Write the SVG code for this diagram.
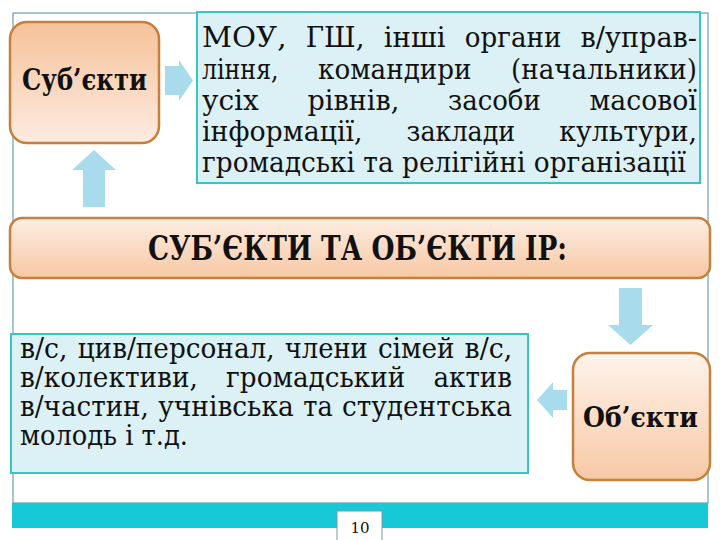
<svg xmlns="http://www.w3.org/2000/svg" width="720" height="540" viewBox="0 0 720 540">
<defs>
<linearGradient id="gSub" x1="0" y1="0" x2="0" y2="1">
<stop offset="0" stop-color="#f6c29a"/><stop offset="1" stop-color="#fdebe0"/>
</linearGradient>
<linearGradient id="gObj" x1="0" y1="0" x2="0" y2="1">
<stop offset="0" stop-color="#fef3ea"/><stop offset="1" stop-color="#f7c9a6"/>
</linearGradient>
<linearGradient id="gBan" x1="0" y1="0" x2="0" y2="1">
<stop offset="0" stop-color="#fdeee3"/><stop offset="1" stop-color="#f7c7a3"/>
</linearGradient>
</defs>
<style>
.orange{stroke:#c4803c;stroke-width:2.5}
.tbox{fill:#dcf1f6;stroke:#36c6c6;stroke-width:2}
.arrow{fill:#a8dcec}
.serif{font-family:"DejaVu Serif","Liberation Serif",serif;fill:#111}
.bt{font-size:28px}
.bold{font-weight:bold}
</style>
<rect width="720" height="540" fill="#ffffff"/>
<rect id="frame" x="13" y="13" width="695" height="490" fill="none" stroke="#4d8e9e" stroke-width="1"/>
<rect id="band" x="12" y="503" width="696" height="25" fill="#17c9d6"/>

<g id="connectors">
<path class="arrow" d="M165,66 L179,66 L179,60 L193,80.5 L179,101 L179,95 L165,95 Z"/>
<path class="arrow" d="M83,207 L83,170 L72,170 L94,150 L116,170 L105,170 L105,207 Z"/>
<path class="arrow" d="M619,288 L642,288 L642,325 L653,325 L630.5,345 L608,325 L619,325 Z"/>
<path class="arrow" d="M567,390 L553,390 L553,382 L537,400 L553,418 L553,410 L567,410 Z"/>
</g>

<g id="subjects">
<rect class="orange" x="10" y="22" width="149" height="121" rx="17" fill="url(#gSub)"/>
<text class="serif bold" x="22" y="90" font-size="29" textLength="125" lengthAdjust="spacingAndGlyphs">Суб’єкти</text>
</g>

<g id="subjects-list">
<rect class="tbox" x="197" y="12" width="503" height="171"/>
<text class="serif bt" y="47"><tspan x="202" textLength="84.5" lengthAdjust="spacingAndGlyphs">МОУ,</tspan><tspan x="305.8" textLength="58.7" lengthAdjust="spacingAndGlyphs">ГШ,</tspan><tspan x="383.8" textLength="61.7" lengthAdjust="spacingAndGlyphs">інші</tspan><tspan x="464.8" textLength="96.5" lengthAdjust="spacingAndGlyphs">органи</tspan><tspan x="580.6" textLength="116.4" lengthAdjust="spacingAndGlyphs">в/управ-</tspan></text>
<text class="serif bt" y="79"><tspan x="202" textLength="76.6" lengthAdjust="spacingAndGlyphs">ління,</tspan><tspan x="318.1" textLength="153.4" lengthAdjust="spacingAndGlyphs">командири</tspan><tspan x="511" textLength="185.9" lengthAdjust="spacingAndGlyphs">(начальники)</tspan></text>
<text class="serif bt" y="110"><tspan x="202" textLength="56.8" lengthAdjust="spacingAndGlyphs">усіх</tspan><tspan x="307.5" textLength="91.8" lengthAdjust="spacingAndGlyphs">рівнів,</tspan><tspan x="448" textLength="92.8" lengthAdjust="spacingAndGlyphs">засоби</tspan><tspan x="589.5" textLength="107.4" lengthAdjust="spacingAndGlyphs">масової</tspan></text>
<text class="serif bt" y="141"><tspan x="202" textLength="160.6" lengthAdjust="spacingAndGlyphs">інформації,</tspan><tspan x="406.6" textLength="108.7" lengthAdjust="spacingAndGlyphs">заклади</tspan><tspan x="559.3" textLength="137.8" lengthAdjust="spacingAndGlyphs">культури,</tspan></text>
<text class="serif bt" x="202" y="172" textLength="484" lengthAdjust="spacingAndGlyphs">громадські та релігійні організації</text>
</g>

<g id="banner">
<rect class="orange" x="10" y="218" width="700" height="60" rx="12" fill="url(#gBan)"/>
<text class="serif bold" x="148" y="260" font-size="34" textLength="419" lengthAdjust="spacingAndGlyphs">СУБ’ЄКТИ  ТА  ОБ’ЄКТИ  ІР:</text>
</g>

<g id="objects-list">
<rect class="tbox" x="11" y="334" width="517" height="139"/>
<text class="serif bt" y="358"><tspan x="20" textLength="47.6" lengthAdjust="spacingAndGlyphs">в/с,</tspan><tspan x="77.7" textLength="197" lengthAdjust="spacingAndGlyphs">цив/персонал,</tspan><tspan x="284.8" textLength="83" lengthAdjust="spacingAndGlyphs">члени</tspan><tspan x="377.9" textLength="76.6" lengthAdjust="spacingAndGlyphs">сімей</tspan><tspan x="464.6" textLength="47.6" lengthAdjust="spacingAndGlyphs">в/с,</tspan></text>
<text class="serif bt" y="387"><tspan x="20" textLength="177.9" lengthAdjust="spacingAndGlyphs">в/колективи,</tspan><tspan x="226.1" textLength="179.1" lengthAdjust="spacingAndGlyphs">громадський</tspan><tspan x="433.5" textLength="78.5" lengthAdjust="spacingAndGlyphs">актив</tspan></text>
<text class="serif bt" y="416"><tspan x="20" textLength="128.9" lengthAdjust="spacingAndGlyphs">в/частин,</tspan><tspan x="158.2" textLength="135.7" lengthAdjust="spacingAndGlyphs">учнівська</tspan><tspan x="303.2" textLength="29.5" lengthAdjust="spacingAndGlyphs">та</tspan><tspan x="342" textLength="170" lengthAdjust="spacingAndGlyphs">студентська</tspan></text>
<text class="serif bt" x="20" y="445" textLength="168" lengthAdjust="spacingAndGlyphs">молодь і т.д.</text>
</g>

<g id="objects">
<rect class="orange" x="573" y="353" width="137" height="127" rx="17" fill="url(#gObj)"/>
<text class="serif bold" x="583" y="427" font-size="28" textLength="115" lengthAdjust="spacingAndGlyphs">Об’єкти</text>
</g>

<g id="page-number">
<rect x="337" y="511" width="45" height="35" fill="#ffffff" stroke="#7a9aa8" stroke-width="1"/>
<text class="serif" x="360" y="533" font-size="15" text-anchor="middle">10</text>
</g>
</svg>
